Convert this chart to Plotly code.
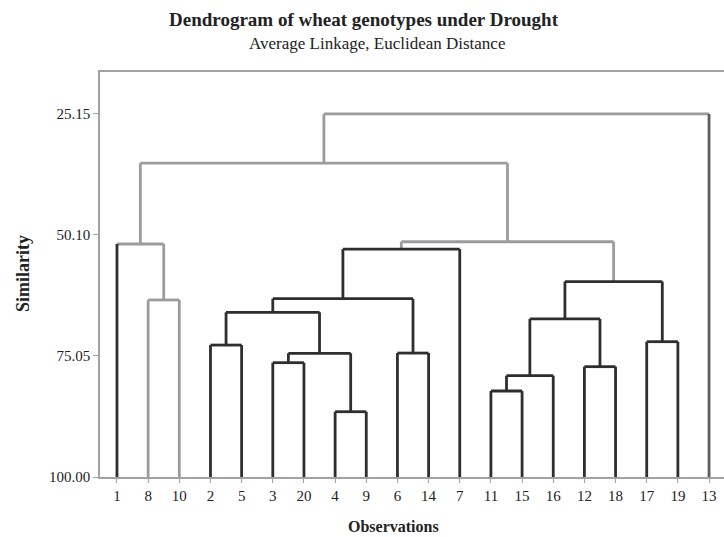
import plotly.graph_objects as go

# ---- data ----
leaf_order = [1, 8, 10, 2, 5, 3, 20, 4, 9, 6, 14, 7, 11, 15, 16, 12, 18, 17, 19, 13]
# amalgamation steps: clusters joined (represented by a member observation) and similarity level
join_a = [4, 11, 15, 12, 3, 3, 6, 2, 17, 11, 2, 8, 2, 11, 2, 1, 2, 1, 1]
join_b = [9, 15, 16, 18, 20, 4, 14, 5, 19, 12, 3, 10, 6, 17, 7, 8, 11, 2, 13]
join_sim = [86.54, 82.27, 79.10, 77.25, 76.43, 74.50, 74.45, 72.80, 72.10, 67.40,
            66.04, 63.50, 63.24, 59.70, 53.00, 51.96, 51.50, 35.30, 25.15]
y_tick_vals = [25.15, 50.10, 75.05, 100.00]
y_tick_text = ["25.15", "50.10", "75.05", "100.00"]

# ---- styles ----
DARK = "#2e2e30"
GRAY = "#9a9ca1"
MID = "#5c5c62"
FONT = "Liberation Serif"
leaf_up_color = {o: DARK for o in leaf_order}
leaf_up_color[8] = GRAY
leaf_up_color[10] = GRAY
leaf_up_color[13] = MID
gray_horiz_steps = {11, 15, 16, 17, 18}        # 0-based step indices drawn gray
gray_up_steps = {11, 13, 14, 15, 16, 17}        # clusters whose upward stub is gray

# ---- build dendrogram geometry ----
xpos = {o: i + 1 for i, o in enumerate(leaf_order)}
parent = {o: o for o in leaf_order}
node_x = {("L", o): xpos[o] for o in leaf_order}
node_h = {("L", o): 100.0 for o in leaf_order}
node_col = {("L", o): leaf_up_color[o] for o in leaf_order}
root_node = {o: ("L", o) for o in leaf_order}


def find(o):
    while parent[o] != o:
        o = parent[o]
    return o


segs = {DARK: ([], []), GRAY: ([], []), MID: ([], [])}


def add(col, xs, ys):
    sx, sy = segs[col]
    sx.extend(xs + [None])
    sy.extend(ys + [None])


for k, (a, b, s) in enumerate(zip(join_a, join_b, join_sim)):
    ra, rb = find(a), find(b)
    na, nb = root_node[ra], root_node[rb]
    if node_x[na] > node_x[nb]:
        na, nb = nb, na
    xa, xb = node_x[na], node_x[nb]
    add(node_col[na], [xa, xa], [node_h[na], s])
    add(node_col[nb], [xb, xb], [node_h[nb], s])
    add(GRAY if k in gray_horiz_steps else DARK, [xa, xb], [s, s])
    new = ("N", k)
    node_x[new] = (xa + xb) / 2
    node_h[new] = s
    node_col[new] = GRAY if k in gray_up_steps else DARK
    parent[rb] = ra
    root_node[ra] = new

fig = go.Figure()
for col in [GRAY, MID, DARK]:
    xs, ys = segs[col]
    fig.add_trace(go.Scatter(x=xs, y=ys, mode="lines",
                             line=dict(color=col, width=2.8),
                             hoverinfo="skip", showlegend=False))

ML, MR, MT, MB = 100, 0, 72, 60
W, H = 724, 537
pw, ph = W - ML - MR, H - MT - MB


def px2paper(px, py):
    return (px - ML) / pw, 1 - (py - MT) / ph


annots = []
for text, px, py, size, angle in [
    ("<b>Dendrogram of wheat genotypes under Drought</b>", 364, 20, 19, 0),
    ("Average Linkage, Euclidean Distance", 377, 43, 17, 0),
    ("<b>Similarity</b>", 23, 274, 18, -90),
    ("<b>Observations</b>", 393, 526, 16, 0),
]:
    ax, ay = px2paper(px, py)
    annots.append(dict(text=text, x=ax, y=ay, xref="paper", yref="paper",
                       xanchor="center", yanchor="middle", showarrow=False,
                       textangle=angle,
                       font=dict(size=size, family=FONT, color="#222")))

fig.update_layout(
    width=W, height=H,
    margin=dict(l=ML, r=MR, t=MT, b=MB),
    paper_bgcolor="white", plot_bgcolor="white",
    font=dict(family=FONT, color="#222222"),
    showlegend=False,
    annotations=annots,
)

fig.update_xaxes(range=[0.455, 20.48], tickmode="array",
                 tickvals=[xpos[o] for o in leaf_order],
                 ticktext=[str(o) for o in leaf_order],
                 showline=True, linecolor="#a0a2a6", linewidth=1.5, mirror=True,
                 ticks="outside", ticklen=4, tickcolor="#a0a2a6",
                 tickfont=dict(size=15, family=FONT, color="#222"),
                 showgrid=False, zeroline=False, fixedrange=True)
fig.update_yaxes(range=[100, 16.5], tickmode="array",
                 tickvals=y_tick_vals, ticktext=y_tick_text,
                 showline=True, linecolor="#a0a2a6", linewidth=1.5,
                 ticks="outside", ticklen=5, tickcolor="#a0a2a6",
                 tickfont=dict(size=15, family=FONT, color="#222"),
                 showgrid=False, zeroline=False, fixedrange=True)

fig.write_html("out.html", config={"displayModeBar": False},
               post_script="document.body.style.margin='0px';document.body.style.overflow='hidden';")
